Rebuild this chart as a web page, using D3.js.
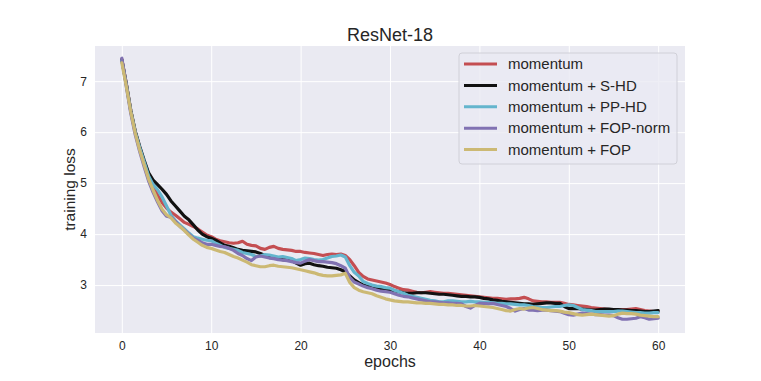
<!DOCTYPE html>
<html>
<head>
<meta charset="utf-8">
<script src="https://cdn.jsdelivr.net/npm/d3@7"></script>
<style>
    body { margin: 0; background: #fff; }
    text { font-family: Arial, "Liberation Sans", sans-serif; fill: #262626; }
</style>
</head>
<body>
<div id="chart"></div>
<script>
// epochs sampled every half epoch, 0 .. 60
const epochs = d3.range(0, 60.25, 0.5);

const momentum = [
    7.43, 6.95, 6.42, 6.0, 5.7, 5.42, 5.16, 4.95, 4.77, 4.62, 4.51, 4.43, 4.37, 4.3, 4.23, 4.19, 4.15, 4.1, 4.04, 3.98, 3.95, 3.9, 3.87, 3.85, 3.83,
    3.82, 3.83, 3.86, 3.8, 3.78, 3.77, 3.72, 3.7, 3.74, 3.76, 3.72, 3.7, 3.69, 3.68, 3.66, 3.66, 3.64, 3.63, 3.62, 3.6, 3.58, 3.6, 3.61, 3.6, 3.61, 3.58, 3.5, 3.38, 3.25, 3.17, 3.12, 3.1, 3.08, 3.06, 3.04, 3.01,
    2.97, 2.94, 2.91, 2.9, 2.88, 2.86, 2.85, 2.86, 2.87, 2.86, 2.85, 2.84, 2.84, 2.83, 2.82, 2.81, 2.8, 2.79, 2.78, 2.77, 2.76, 2.75, 2.74, 2.74, 2.73, 2.72, 2.73, 2.73, 2.74, 2.76,
    2.73, 2.69, 2.68, 2.67, 2.67, 2.66, 2.66, 2.66, 2.64, 2.62, 2.61, 2.6, 2.59, 2.58, 2.56, 2.55, 2.54, 2.53, 2.52, 2.52, 2.52, 2.52, 2.52, 2.53, 2.54, 2.52, 2.5, 2.49, 2.48, 2.48
];
const momentumSHD = [
    7.42, 6.95, 6.43, 6.02, 5.72, 5.45, 5.2, 5.06, 4.97, 4.88, 4.78, 4.65, 4.55, 4.45, 4.35, 4.28, 4.18, 4.08, 4.0, 3.95, 3.92, 3.88, 3.83, 3.78, 3.76,
    3.73, 3.7, 3.68, 3.67, 3.66, 3.65, 3.62, 3.58, 3.56, 3.54, 3.52, 3.5, 3.49, 3.48, 3.43, 3.39, 3.42, 3.43, 3.4, 3.38, 3.37, 3.35, 3.34, 3.33, 3.3, 3.26, 3.18, 3.1, 3.05, 3.0, 2.98, 2.97, 2.96, 2.93, 2.9, 2.9,
    2.89, 2.87, 2.85, 2.84, 2.84, 2.85, 2.85, 2.85, 2.84, 2.83, 2.82, 2.82, 2.81, 2.8, 2.79, 2.78, 2.78, 2.77, 2.77, 2.76, 2.74, 2.73, 2.71, 2.7, 2.68, 2.67, 2.66, 2.65, 2.64, 2.63,
    2.63, 2.62, 2.63, 2.64, 2.65, 2.65, 2.64, 2.64, 2.58, 2.54, 2.54, 2.54, 2.53, 2.52, 2.51, 2.51, 2.52, 2.53, 2.53, 2.52, 2.52, 2.51, 2.51, 2.5, 2.5, 2.49, 2.48, 2.48, 2.49, 2.5
];
const momentumPPHD = [
    7.41, 6.93, 6.41, 6.0, 5.7, 5.42, 5.14, 4.97, 4.87, 4.73, 4.55, 4.37, 4.26, 4.18, 4.1, 4.02, 3.95, 3.92, 3.9, 3.88, 3.87, 3.82, 3.78, 3.74, 3.72,
    3.7, 3.68, 3.64, 3.62, 3.6, 3.56, 3.57, 3.6, 3.59, 3.57, 3.55, 3.56, 3.54, 3.52, 3.48, 3.5, 3.53, 3.52, 3.5, 3.49, 3.5, 3.53, 3.56, 3.57, 3.59, 3.55, 3.38, 3.25, 3.18, 3.07, 3.03, 3.0, 2.98, 2.97, 2.95, 2.94,
    2.9, 2.87, 2.84, 2.8, 2.78, 2.76, 2.74, 2.72, 2.7, 2.69, 2.67, 2.67, 2.69, 2.69, 2.68, 2.67, 2.67, 2.68, 2.67, 2.67, 2.66, 2.66, 2.65, 2.64, 2.64, 2.63, 2.63, 2.62, 2.61, 2.61,
    2.6, 2.58, 2.57, 2.56, 2.56, 2.57, 2.58, 2.58, 2.6, 2.61, 2.6, 2.56, 2.52, 2.51, 2.5, 2.48, 2.48, 2.48, 2.48, 2.48, 2.49, 2.49, 2.48, 2.47, 2.46, 2.46, 2.45, 2.45, 2.46, 2.46
];
const momentumFOPnorm = [
    7.45, 6.9, 6.37, 5.95, 5.62, 5.32, 5.04, 4.82, 4.63, 4.46, 4.35, 4.33, 4.25, 4.15, 4.08, 4.0, 3.92, 3.88, 3.83, 3.8, 3.8, 3.78, 3.76, 3.75, 3.72,
    3.68, 3.62, 3.58, 3.52, 3.48, 3.55, 3.57, 3.55, 3.53, 3.52, 3.5, 3.49, 3.48, 3.46, 3.44, 3.43, 3.47, 3.5, 3.48, 3.46, 3.46, 3.45, 3.44, 3.42, 3.38, 3.33, 3.15, 3.06, 3.02, 2.98, 2.95, 2.93, 2.9, 2.88, 2.87, 2.86,
    2.83, 2.8, 2.78, 2.77, 2.75, 2.73, 2.71, 2.69, 2.67, 2.67, 2.66, 2.65, 2.65, 2.64, 2.64, 2.63, 2.58, 2.55, 2.6, 2.64, 2.64, 2.63, 2.64, 2.62, 2.6, 2.58, 2.54, 2.49, 2.52, 2.54,
    2.51, 2.51, 2.5, 2.51, 2.51, 2.5, 2.49, 2.48, 2.45, 2.42, 2.41, 2.43, 2.45, 2.44, 2.43, 2.42, 2.42, 2.41, 2.41, 2.4, 2.36, 2.33, 2.33, 2.34, 2.35, 2.38, 2.36, 2.33, 2.34, 2.35
];
const momentumFOP = [
    7.36, 6.9, 6.4, 5.98, 5.65, 5.36, 5.08, 4.86, 4.66, 4.49, 4.38, 4.32, 4.22, 4.15, 4.07, 3.98, 3.9, 3.84, 3.78, 3.74, 3.72, 3.69, 3.66, 3.64, 3.6,
    3.56, 3.53, 3.49, 3.45, 3.4, 3.38, 3.36, 3.36, 3.38, 3.39, 3.37, 3.36, 3.35, 3.34, 3.32, 3.3, 3.28, 3.26, 3.24, 3.21, 3.19, 3.18, 3.18, 3.19, 3.2, 3.23, 3.05, 2.95, 2.9, 2.87, 2.85, 2.83, 2.79, 2.76, 2.73, 2.71,
    2.69, 2.68, 2.67, 2.67, 2.66, 2.65, 2.65, 2.64, 2.64, 2.63, 2.62, 2.62, 2.61, 2.61, 2.6, 2.6, 2.59, 2.59, 2.6, 2.59, 2.58, 2.57, 2.56, 2.54, 2.52, 2.5, 2.49, 2.52, 2.54, 2.53,
    2.55, 2.56, 2.54, 2.52, 2.51, 2.5, 2.5, 2.49, 2.47, 2.46, 2.44, 2.42, 2.41, 2.42, 2.43, 2.42, 2.41, 2.4, 2.39, 2.4, 2.43, 2.45, 2.44, 2.44, 2.43, 2.41, 2.4, 2.39, 2.38, 2.38
];

const seriesNames = ["momentum", "momentum + S-HD", "momentum + PP-HD", "momentum + FOP-norm", "momentum + FOP"];
const seriesColors = ["#C44E52", "#111111", "#64B5CD", "#8172B2", "#CCB974"];
const seriesValues = [momentum, momentumSHD, momentumPPHD, momentumFOPnorm, momentumFOP];

const xTicks = [0, 10, 20, 30, 40, 50, 60];
const yTicks = [3, 4, 5, 6, 7];

// set the dimensions and margins of the graph
var margin = { top: 46, right: 76, bottom: 48, left: 95 },
    width = 761 - margin.left - margin.right,
    height = 381 - margin.top - margin.bottom;

var svg = d3.select("#chart")
    .append("svg")
    .attr("width", 761)
    .attr("height", 381);

var g = svg.append("g")
    .attr("transform", "translate(" + margin.left + "," + margin.top + ")");

var x = d3.scaleLinear().domain([-3, 63]).range([0, width]);
var y = d3.scaleLinear().domain([2.06, 7.69]).range([height, 0]);

// background
g.append("rect")
    .attr("width", width)
    .attr("height", height)
    .attr("fill", "#EAEAF2");

// grid
g.append("g")
    .attr("transform", "translate(0," + height + ")")
    .call(d3.axisBottom(x).tickValues(xTicks).tickSize(-height).tickFormat(""))
    .call(a => a.select(".domain").remove())
    .selectAll("line").attr("stroke", "#fff").attr("stroke-width", 1);
g.append("g")
    .call(d3.axisLeft(y).tickValues(yTicks).tickSize(-width).tickFormat(""))
    .call(a => a.select(".domain").remove())
    .selectAll("line").attr("stroke", "#fff").attr("stroke-width", 1);

// tick labels
g.append("g")
    .attr("transform", "translate(0," + height + ")")
    .call(d3.axisBottom(x).tickValues(xTicks).tickSize(0).tickPadding(8).tickFormat(d3.format("d")))
    .call(a => a.select(".domain").remove())
    .selectAll("text")
    .attr("font-size", 12)
    .style("fill", "#262626");
g.append("g")
    .call(d3.axisLeft(y).tickValues(yTicks).tickSize(0).tickPadding(8).tickFormat(d3.format("d")))
    .call(a => a.select(".domain").remove())
    .selectAll("text")
    .attr("font-size", 12)
    .style("fill", "#262626");

// lines
var line = d3.line()
    .x((d, i) => x(epochs[i]))
    .y(d => y(d));

seriesValues.forEach(function (vals, k) {
    g.append("path")
        .datum(vals)
        .attr("fill", "none")
        .attr("stroke", seriesColors[k])
        .attr("stroke-width", 3.2)
        .attr("stroke-linejoin", "round")
        .attr("stroke-linecap", "round")
        .attr("d", line);
});

// title and axis labels
svg.append("text")
    .attr("x", margin.left + width / 2)
    .attr("y", 41)
    .attr("text-anchor", "middle")
    .attr("font-size", 18)
    .text("ResNet-18");

svg.append("text")
    .attr("x", margin.left + width / 2)
    .attr("y", 367)
    .attr("text-anchor", "middle")
    .attr("font-size", 16)
    .text("epochs");

svg.append("text")
    .attr("transform", "translate(75," + (margin.top + height / 2) + ")rotate(-90)")
    .attr("text-anchor", "middle")
    .attr("font-size", 15.5)
    .text("training loss");

// legend
var legend = g.append("g")
    .attr("transform", "translate(" + (width - 226) + ",7)");

legend.append("rect")
    .attr("width", 218)
    .attr("height", 111)
    .attr("rx", 3)
    .attr("fill", "#EAEAF2")
    .attr("fill-opacity", 0.8)
    .attr("stroke", "#d0d0d8")
    .attr("stroke-width", 1);

seriesNames.forEach(function (name, k) {
    var row = legend.append("g")
        .attr("transform", "translate(0," + (11 + k * 21.4) + ")");
    row.append("line")
        .attr("x1", 5).attr("x2", 38)
        .attr("stroke", seriesColors[k])
        .attr("stroke-width", 3);
    row.append("text")
        .attr("x", 49)
        .attr("dy", "0.35em")
        .attr("font-size", 15)
        .text(name);
});
</script>
</body>
</html>
